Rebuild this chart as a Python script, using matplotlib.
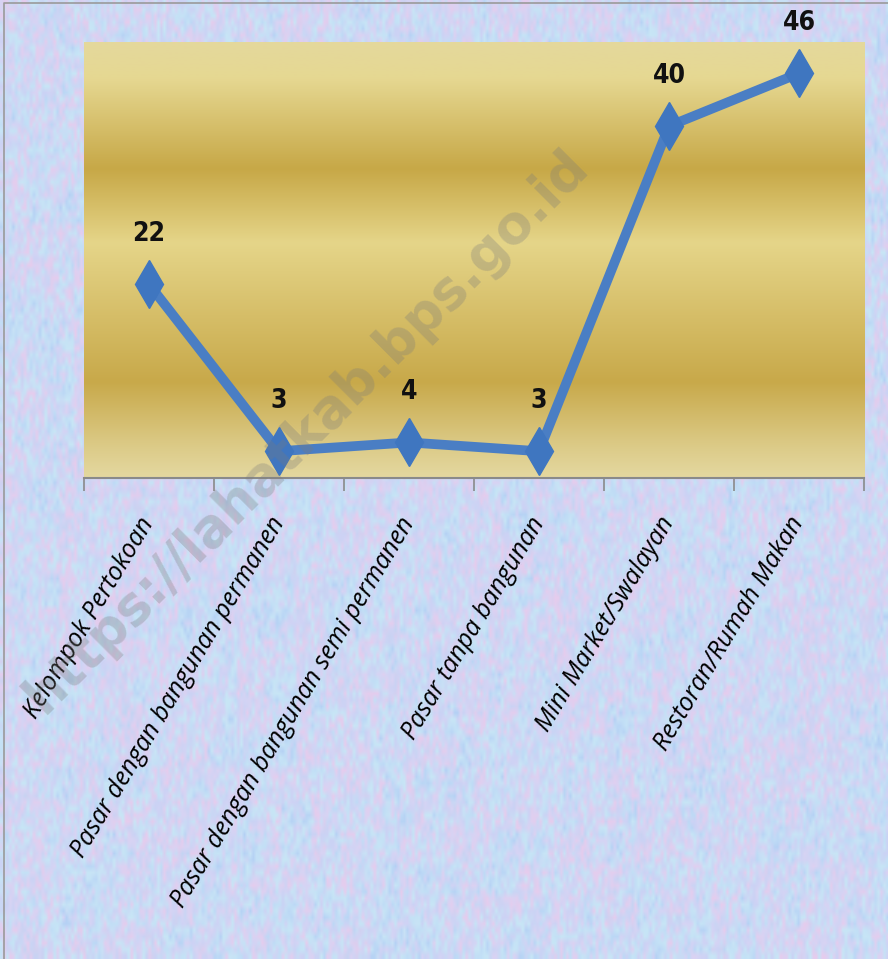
import matplotlib.pyplot as plt
import numpy as np
from matplotlib.colors import LinearSegmentedColormap

# kategori dan nilai
kategori = ["Kelompok Pertokoan", "Pasar dengan bangunan permanen",
            "Pasar dengan bangunan semi permanen", "Pasar tanpa bangunan",
            "Mini Market/Swalayan", "Restoran/Rumah Makan"]
nilai = [22, 3, 4, 3, 40, 46]

fig = plt.figure(figsize=(8.88, 9.59), dpi=100)

# latar belakang pastel bertekstur (hiasan saja)
rng = np.random.default_rng(7)
bg = fig.add_axes([0, 0, 1, 1], zorder=0)
noise = 0.65 * rng.random((150, 300))
noise += 0.35 * np.kron(rng.random((30, 60)), np.ones((5, 5)))
bg_cmap = LinearSegmentedColormap.from_list(
    "pastel", ["#b4d0f4", "#c0dcf6", "#c8e6f6", "#cad2f4",
               "#d6d4f4", "#e6cced", "#bcd6f4"])
bg.imshow(noise, cmap=bg_cmap, aspect="auto", interpolation="bilinear",
          extent=[0, 1, 0, 1])
bg.set_xlim(0, 1)
bg.set_ylim(0, 1)
bg.axis("off")
# bingkai tipis
bg.plot([0.004, 0.004, 1], [0, 0.997, 0.997], color="#9a9a9a", lw=1.2)

ax = fig.add_axes([0.0946, 0.502, 0.8784, 0.4545], zorder=1)
x = np.arange(len(nilai))
ax.set_xlim(-0.5, len(nilai) - 0.5)

# gradasi emas di area plot (atas -> bawah)
gold = LinearSegmentedColormap.from_list("gold", [
    (0.0, "#e4d89c"), (0.08, "#e6d892"), (0.29, "#c7a847"),
    (0.46, "#e5d589"), (0.78, "#c8a94a"), (0.93, "#dccb88"), (1.0, "#e4d8a0")])
grad = np.linspace(0, 1, 256).reshape(-1, 1)
ax.imshow(grad, cmap=gold, aspect="auto", extent=[-0.5, 5.5, 0, 49.6],
          origin="upper", zorder=0, interpolation="bilinear")
ax.set_ylim(0, 49.6)

ax.plot(x, nilai, color="#4a7ec4", lw=7, marker="d", markersize=24,
        markerfacecolor="#3f76c0", markeredgecolor="#3f76c0", zorder=3,
        solid_joinstyle="miter")

for xi, v in zip(x, nilai):
    ax.annotate(str(v), (xi, v), xytext=(0, 36), textcoords="offset points",
                ha="center", va="center", fontsize=19, fontweight="bold",
                fontstretch="condensed", color="#111111")

ax.set_xticks(x)
ax.set_xticklabels(kategori, rotation=59, ha="right", va="center",
                   rotation_mode="anchor", fontsize=18, style="italic",
                   family=["Open Sans", "DejaVu Sans"])
ax.set_xticks(np.arange(-0.5, len(nilai)), minor=True)
ax.tick_params(axis="x", which="major", length=0, pad=30)
ax.tick_params(axis="x", which="minor", length=9, color="#8a8a8a", width=1.2)
ax.set_yticks([])
for s in ["top", "right", "left"]:
    ax.spines[s].set_visible(False)
ax.spines["bottom"].set_color("#8a8a8a")
ax.spines["bottom"].set_linewidth(1.5)

# watermark
fig.text(0.345, 0.55, "https://lahatkab.bps.go.id", rotation=45,
         ha="center", va="center", fontsize=38, fontweight="bold",
         color="#7a7a7a", alpha=0.3, zorder=5)

fig.savefig("out.png", dpi=100)
